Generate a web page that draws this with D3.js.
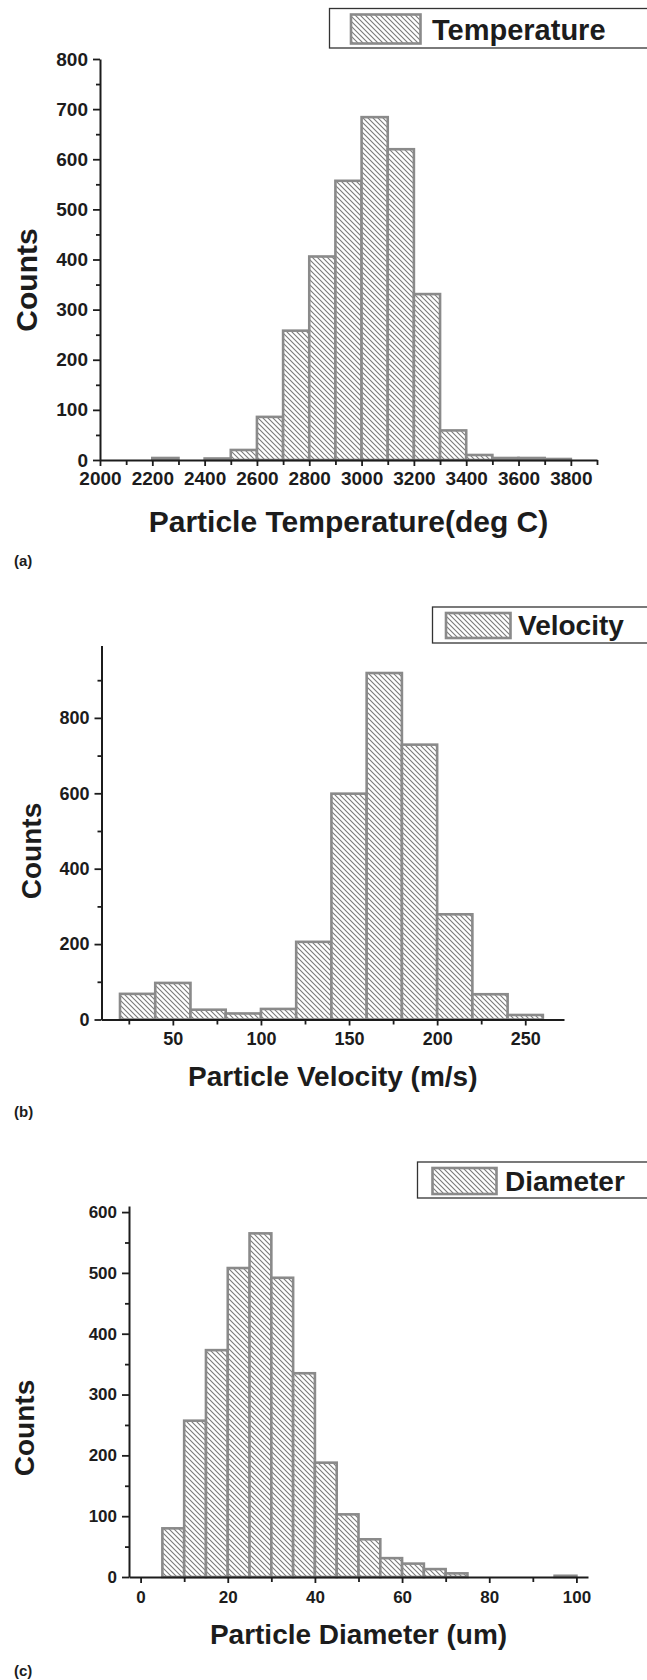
<!DOCTYPE html>
<html>
<head>
<meta charset="utf-8">
<script src="https://cdnjs.cloudflare.com/ajax/libs/d3/7.8.5/d3.min.js"></script>
<style>
    body { margin: 0; background: #ffffff; }
    svg { display: block; }
</style>
</head>
<body>
<div id="canvas"></div>
<script>
"use strict";

/* Data */

// (a) particle temperature, bins of 100 deg C
let tempEdges = [2000, 2100, 2200, 2300, 2400, 2500, 2600, 2700, 2800, 2900,
                 3000, 3100, 3200, 3300, 3400, 3500, 3600, 3700, 3800];
let tempCounts = [0, 0, 4, 0, 3, 20, 86, 258, 406, 557, 684, 620, 331, 59, 10, 4, 4, 2];
let tempXTicks = [2000, 2200, 2400, 2600, 2800, 3000, 3200, 3400, 3600, 3800];
let tempXMinor = [2100, 2300, 2500, 2700, 2900, 3100, 3300, 3500, 3700, 3900];
let tempYTicks = [0, 100, 200, 300, 400, 500, 600, 700, 800];
let tempYMinor = [50, 150, 250, 350, 450, 550, 650, 750];

// (b) particle velocity, bins of 20 m/s
let velEdges = [20, 40, 60, 80, 100, 120, 140, 160, 180, 200, 220, 240, 260];
let velCounts = [68, 97, 26, 16, 28, 206, 599, 919, 729, 279, 67, 12];
let velXTicks = [50, 100, 150, 200, 250];
let velXMinor = [25, 75, 125, 175, 225];
let velYTicks = [0, 200, 400, 600, 800];
let velYMinor = [100, 300, 500, 700, 900];

// (c) particle diameter, bins of 5 um
let diaEdges = [5, 10, 15, 20, 25, 30, 35, 40, 45, 50, 55, 60, 65, 70, 75, 80, 85, 90, 95, 100];
let diaCounts = [80, 257, 373, 508, 565, 492, 335, 188, 103, 62, 31, 22, 13, 6, 0, 0, 0, 0, 2];
let diaXTicks = [0, 20, 40, 60, 80, 100];
let diaXMinor = [10, 30, 50, 70, 90];
let diaYTicks = [0, 100, 200, 300, 400, 500, 600];
let diaYMinor = [50, 150, 250, 350, 450, 550];

/* Global Variables */
let svgWidth = 647;
let svgHeight = 1680;
let svg;

let fontFamily = "'Liberation Sans', Arial, Helvetica, sans-serif";
let barStroke = "#8a8a8a";
let hatchColor = "#7a7a7a";
let inkColor = "#1c1c1c";

(function() {
    createSVG();

    drawPanel({
        edges: tempEdges, counts: tempCounts,
        xTicks: tempXTicks, xMinor: tempXMinor, yTicks: tempYTicks, yMinor: tempYMinor,
        xDomain: [2000, 3900], yDomain: [0, 800],
        left: 100, right: 597, top: 59, bottom: 460,
        tickFont: 19, titleFont: 30, xLabelGap: 6,
        xTitle: "Particle Temperature(deg C)", xTitleY: 532,
        countsX: 37, countsY: 280,
        tag: "(a)", tagY: 566,
        legend: { x: 329.5, y: 8.5, w: 320, h: 39.5, sx: 351, sy: 14.5, sw: 69.5, sh: 29,
                  text: "Temperature", tx: 432, ty: 39.5, size: 29 }
    });

    drawPanel({
        edges: velEdges, counts: velCounts,
        xTicks: velXTicks, xMinor: velXMinor, yTicks: velYTicks, yMinor: velYMinor,
        xDomain: [9.5, 272], yDomain: [0, 992],
        left: 101.5, right: 564, top: 645.5, bottom: 1019.5,
        tickFont: 18, titleFont: 28, xLabelGap: 7,
        xTitle: "Particle Velocity (m/s)", xTitleY: 1086,
        countsX: 41, countsY: 851,
        tag: "(b)", tagY: 1117,
        legend: { x: 432.5, y: 607, w: 217, h: 36, sx: 446, sy: 613, sw: 64.5, sh: 25,
                  text: "Velocity", tx: 518, ty: 635, size: 28 }
    });

    drawPanel({
        edges: diaEdges, counts: diaCounts,
        xTicks: diaXTicks, xMinor: diaXMinor, yTicks: diaYTicks, yMinor: diaYMinor,
        xDomain: [-2.66, 102.66], yDomain: [0, 610],
        left: 129, right: 588, top: 1206, bottom: 1577,
        tickFont: 17, titleFont: 28, xLabelGap: 8,
        xTitle: "Particle Diameter (um)", xTitleY: 1644,
        countsX: 34, countsY: 1428,
        tag: "(c)", tagY: 1676,
        legend: { x: 417.5, y: 1162, w: 232, h: 36, sx: 432.5, sy: 1168, sw: 64, sh: 26,
                  text: "Diameter", tx: 505, ty: 1191, size: 28 }
    });
})();

/**
 * Creates the SVG element and the diagonal hatch pattern used by the bars.
 */
function createSVG() {
    svg = d3.select("#canvas")
        .append("svg")
        .attr("width", svgWidth)
        .attr("height", svgHeight);

    svg.append("rect")
        .attr("width", svgWidth)
        .attr("height", svgHeight)
        .attr("fill", "#ffffff");

    // "\\\\" hatching, top-left to bottom-right
    let pattern = svg.append("defs")
        .append("pattern")
        .attr("id", "hatch")
        .attr("patternUnits", "userSpaceOnUse")
        .attr("width", 5)
        .attr("height", 5);

    pattern.append("rect")
        .attr("width", 5)
        .attr("height", 5)
        .attr("fill", "#ffffff");

    pattern.append("path")
        .attr("d", "M-1,-1 L6,6 M-1,4 L1,6 M4,-1 L6,1")
        .attr("stroke", hatchColor)
        .attr("stroke-width", 1.1);
}

/**
 * Draws one histogram panel: bars, axes with major/minor ticks, titles and legend.
 */
function drawPanel(p) {
    let xScale = d3.scaleLinear()
        .domain(p.xDomain)
        .range([p.left, p.right]);

    let yScale = d3.scaleLinear()
        .domain(p.yDomain)
        .range([p.bottom, p.top]);

    // bins, one per count
    let bins = [];
    for (let i = 0; i < p.counts.length; i++) {
        bins.push({ x0: p.edges[i], x1: p.edges[i + 1], count: p.counts[i] });
    }

    let g = svg.append("g");

    g.selectAll("rect.bar")
        .data(bins.filter(function(d) { return d.count > 0; }))
        .join("rect")
        .classed("bar", true)
        .attr("x", function(d) { return xScale(d.x0); })
        .attr("width", function(d) { return xScale(d.x1) - xScale(d.x0); })
        .attr("y", function(d) { return yScale(d.count); })
        .attr("height", function(d) { return yScale(0) - yScale(d.count); })
        .attr("fill", "url(#hatch)")
        .attr("stroke", barStroke)
        .attr("stroke-width", 2.6);

    // minor ticks (no labels)
    let xMinorAxis = d3.axisBottom(xScale)
        .tickValues(p.xMinor)
        .tickSize(5)
        .tickFormat("");
    let yMinorAxis = d3.axisLeft(yScale)
        .tickValues(p.yMinor)
        .tickSize(4)
        .tickFormat("");

    let xm = g.append("g")
        .attr("transform", "translate(0," + p.bottom + ")")
        .call(xMinorAxis);
    let ym = g.append("g")
        .attr("transform", "translate(" + p.left + ",0)")
        .call(yMinorAxis);
    xm.select(".domain").remove();
    ym.select(".domain").remove();

    // major ticks with labels
    let xAxis = d3.axisBottom(xScale)
        .tickValues(p.xTicks)
        .tickSize(6)
        .tickSizeOuter(0)
        .tickPadding(p.xLabelGap)
        .tickFormat(d3.format("d"));
    let yAxis = d3.axisLeft(yScale)
        .tickValues(p.yTicks)
        .tickSize(7)
        .tickSizeOuter(0)
        .tickPadding(5)
        .tickFormat(d3.format("d"));

    let xg = g.append("g")
        .attr("transform", "translate(0," + p.bottom + ")")
        .call(xAxis);
    let yg = g.append("g")
        .attr("transform", "translate(" + p.left + ",0)")
        .call(yAxis);

    [xg, yg, xm, ym].forEach(function(axis) {
        axis.selectAll("line").attr("stroke", inkColor).attr("stroke-width", 1.8);
        axis.selectAll(".domain").attr("stroke", inkColor).attr("stroke-width", 2);
        axis.selectAll("text")
            .attr("fill", inkColor)
            .style("font-family", fontFamily)
            .style("font-weight", "bold")
            .style("font-size", p.tickFont + "px");
    });

    // axis titles
    svg.append("text")
        .attr("x", (p.left + p.right) / 2)
        .attr("y", p.xTitleY)
        .attr("text-anchor", "middle")
        .attr("fill", inkColor)
        .style("font-family", fontFamily)
        .style("font-weight", "bold")
        .style("font-size", p.titleFont + "px")
        .text(p.xTitle);

    svg.append("text")
        .attr("transform", "translate(" + p.countsX + "," + p.countsY + ") rotate(-90)")
        .attr("text-anchor", "middle")
        .attr("fill", inkColor)
        .style("font-family", fontFamily)
        .style("font-weight", "bold")
        .style("font-size", p.titleFont + "px")
        .text("Counts");

    // panel tag
    svg.append("text")
        .attr("x", 14)
        .attr("y", p.tagY)
        .attr("fill", inkColor)
        .style("font-family", fontFamily)
        .style("font-weight", "bold")
        .style("font-size", "15px")
        .text(p.tag);

    drawLegend(p.legend);
}

function drawLegend(l) {
    svg.append("rect")
        .attr("x", l.x)
        .attr("y", l.y)
        .attr("width", l.w)
        .attr("height", l.h)
        .attr("fill", "#ffffff")
        .attr("stroke", "#333333")
        .attr("stroke-width", 1.3);

    svg.append("rect")
        .attr("x", l.sx)
        .attr("y", l.sy)
        .attr("width", l.sw)
        .attr("height", l.sh)
        .attr("fill", "url(#hatch)")
        .attr("stroke", barStroke)
        .attr("stroke-width", 2.6);

    svg.append("text")
        .attr("x", l.tx)
        .attr("y", l.ty)
        .attr("fill", inkColor)
        .style("font-family", fontFamily)
        .style("font-weight", "bold")
        .style("font-size", l.size + "px")
        .text(l.text);
}
</script>
</body>
</html>
